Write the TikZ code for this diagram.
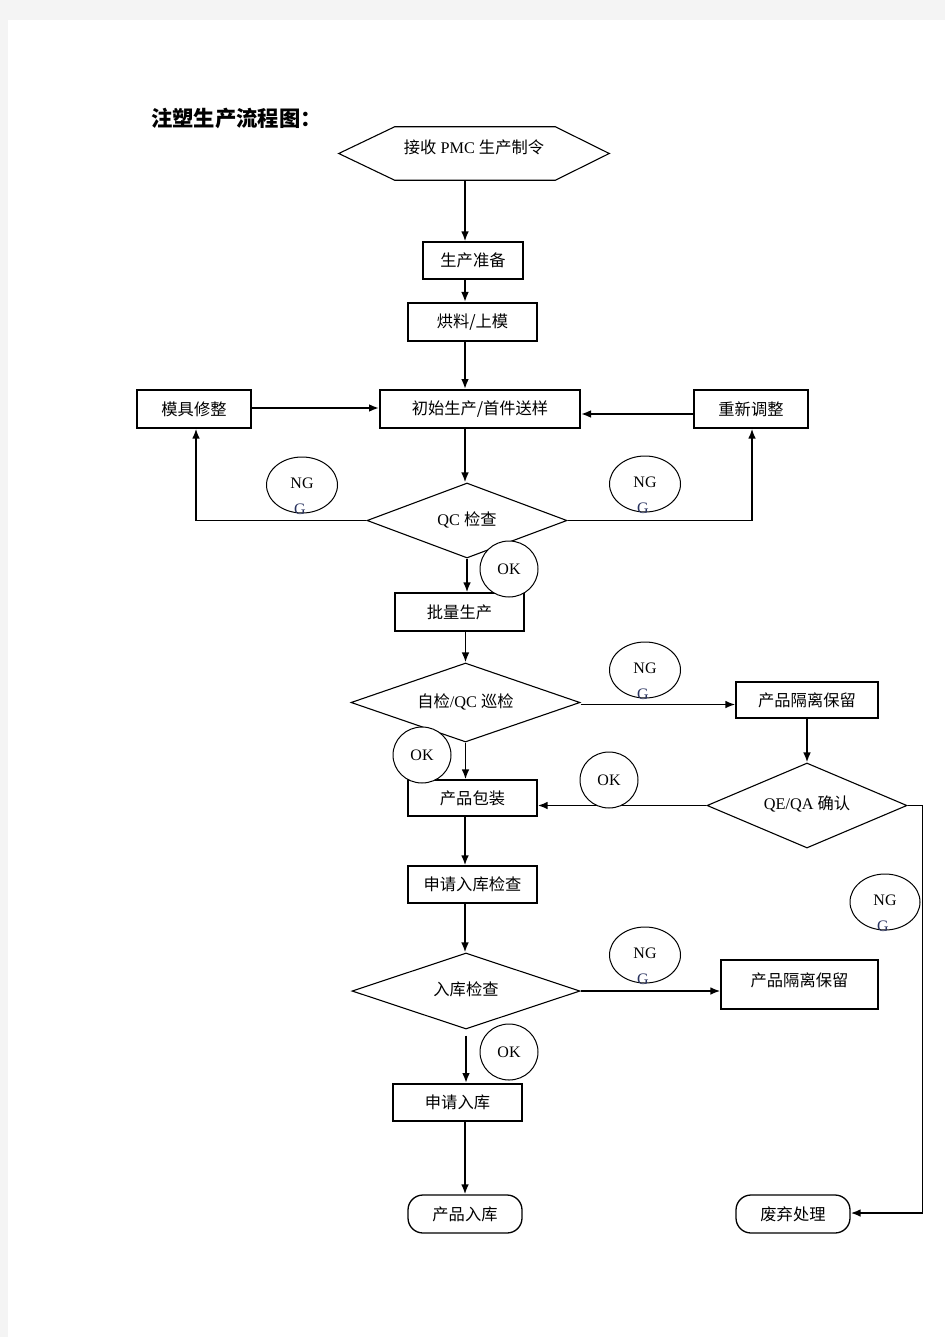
\documentclass[tikz,border=0pt]{standalone}
\usepackage{fontspec}
\setmainfont{Liberation Serif}
\newfontfamily\cjk{Noto Sans CJK SC}
\usetikzlibrary{shapes.geometric,arrows.meta,calc}
\newdimen\px \px=0.75pt
\newcommand\zh[1]{{\cjk #1}}
\definecolor{pagegray}{RGB}{244,244,244}
\definecolor{gtext}{RGB}{40,50,95}
\begin{document}
\begin{tikzpicture}[x=0.75pt,y=-0.75pt,
  every node/.style={font=\fontsize{12.2}{14}\selectfont, inner sep=0pt},
  box/.style={draw, line width=1.3\px, rectangle},
  thickbox/.style={draw, line width=2\px, rectangle},
  capsule/.style={draw, line width=1.3\px, rectangle, rounded corners=15\px, minimum width=114\px, minimum height=38\px},
  dia/.style={draw, line width=1.1\px, diamond},
  bubble/.style={draw, line width=1\px, ellipse, fill=white},
  ng/.style={bubble, minimum width=71\px, minimum height=56\px,
    label={[shift={(0,-2)},font=\fontsize{12}{14}\selectfont]center:NG},
    label={[shift={(-2,24)},font=\fontsize{12}{14}\selectfont,text=gtext]center:G}},
  ok/.style={bubble, minimum width=58\px, minimum height=56\px,
    label={[font=\fontsize{12}{14}\selectfont]center:OK}},
  arr/.style={-{Latex[length=7.5pt,width=5.8pt]}, line width=1.8\px},
  ln/.style={line width=1.8\px}]
% page
\fill[pagegray] (0,0) rectangle (945,1337);
\fill[white] (8,20) rectangle (945,1337);
\useasboundingbox (0,0) rectangle (945,1337);

% title
\node[font=\fontsize{16}{18}\selectfont\cjk\bfseries, anchor=west] (title) at (151,118) {注塑生产流程图：};

% axis coordinate
\coordinate (mainx) at (465,0);

% hexagon
\node[minimum width=270\px, minimum height=53\px] (hex) at (474,153.5) {\raisebox{13\px}{\zh{接收}~PMC~\zh{生产制令}}};
\draw[line width=1.1\px] (hex.west) -- ($(hex.north west)+(56,0)$) -- ($(hex.north east)+(-54,0)$) -- (hex.east)
  -- ($(hex.south east)+(-54,0)$) -- ($(hex.south west)+(56,0)$) -- cycle;

% boxes
\node[box, minimum width=100\px, minimum height=37\px] (prep) at (473,260.5) {\zh{生产准备}};
\node[thickbox, minimum width=129\px, minimum height=38\px] (bake) at (472.5,322) {\zh{烘料/上模}};
\node[thickbox, minimum width=200\px, minimum height=38\px] (init) at (480,409) {\zh{初始生产/首件送样}};
\node[box, minimum width=114\px, minimum height=38\px] (mold) at (194,409) {\zh{模具修整}};
\node[box, minimum width=114\px, minimum height=38\px] (rework) at (751,409) {\zh{重新调整}};
\node[dia, aspect=2.67, minimum width=200\px, minimum height=75\px] (qc) at (467,520.5) {\raisebox{3\px}{QC~\zh{检查}}};
\node[box, minimum width=129\px, minimum height=38\px] (batch) at (459.5,612) {\zh{批量生产}};
\node[dia, aspect=2.9, minimum width=229\px, minimum height=79\px] (self) at (465.5,702.5) {\raisebox{3\px}{\zh{自检}/QC~\zh{巡检}}};
\node[box, minimum width=142\px, minimum height=36\px] (iso1) at (807,700) {\zh{产品隔离保留}};
\node[dia, aspect=2.35, minimum width=200\px, minimum height=85\px] (qeqa) at (807,805.5) {\raisebox{5\px}{QE/QA~\zh{确认}}};
\node[box, minimum width=129\px, minimum height=36\px] (pack) at (472.5,798) {\zh{产品包装}};
\node[box, minimum width=129\px, minimum height=37\px] (chk) at (472.5,884.5) {\zh{申请入库检查}};
\node[dia, aspect=3, minimum width=228\px, minimum height=76\px] (store) at (466,991) {\raisebox{4\px}{\zh{入库检查}}};
\node[box, minimum width=157\px, minimum height=49\px] (iso2) at (799.5,984.5) {\raisebox{10\px}{\zh{产品隔离保留}}};
\node[thickbox, minimum width=129\px, minimum height=37\px] (apply) at (457.5,1102.5) {\zh{申请入库}};
\node[capsule] (stock) at (465,1214) {\zh{产品入库}};
\node[capsule] (scrap) at (793,1214) {\zh{废弃处理}};

% connectors
\draw[arr] (hex.south -| mainx) -- (prep.north -| mainx);
\draw[arr] (prep.south -| mainx) -- (bake.north -| mainx);
\draw[arr] (bake.south -| mainx) -- (init.north -| mainx);
\draw[arr] (init.south -| mainx) -- (qc.north -| mainx);
\draw[arr] (qc.south) -- (batch.north -| qc.south);
\draw[arr] (batch.south -| self.north) -- (self.north);
\draw[arr] (self.south) -- (pack.north -| self.south);
\draw[arr] (pack.south -| mainx) -- (chk.north -| mainx);
\draw[arr] (chk.south -| mainx) -- (store.north -| mainx);
\draw[arr] ($(store.south)+(0,6)$) -- (apply.north -| store.south);
\draw[arr] (apply.south -| mainx) -- (stock.north -| mainx);
\draw[arr] ($(mold.east)+(0,-1)$) -- ($(init.west)+(0,-1)$);
\draw[arr] ($(rework.west)+(0,5)$) -- ($(init.east)+(0,5)$);
\draw[arr] (qc.west) -| ($(mold.south)+(2,0)$);
\draw[arr] (qc.east) -| ($(rework.south)+(1,0)$);
\draw[arr] ($(self.east)+(0,2)$) -- ($(iso1.west)+(0,4.5)$);
\draw[arr] (iso1.south) -- (qeqa.north);
\draw[arr] (qeqa.west) -- (qeqa.west -| pack.east);
\draw[arr] (qeqa.east) -- ++(15,0) |- ($(scrap.east)+(0,-1)$);
\draw[arr] (store.east) -- (store.east -| iso2.west);

% NG / OK bubbles
\node[ng] (ng1) at (302,485) {};
\node[ng] (ng2) at (645,484) {};
\node[ok] (ok1) at (509,569) {};
\node[ng] (ng3) at (645,670) {};
\node[ok] (ok2) at (422,755) {};
\node[ok] (ok3) at (609,780) {};
\node[ng, minimum width=70\px] (ng4) at (885,902) {};
\node[ng] (ng5) at (645,955) {};
\node[ok] (ok4) at (509,1052) {};
\end{tikzpicture}
\end{document}
